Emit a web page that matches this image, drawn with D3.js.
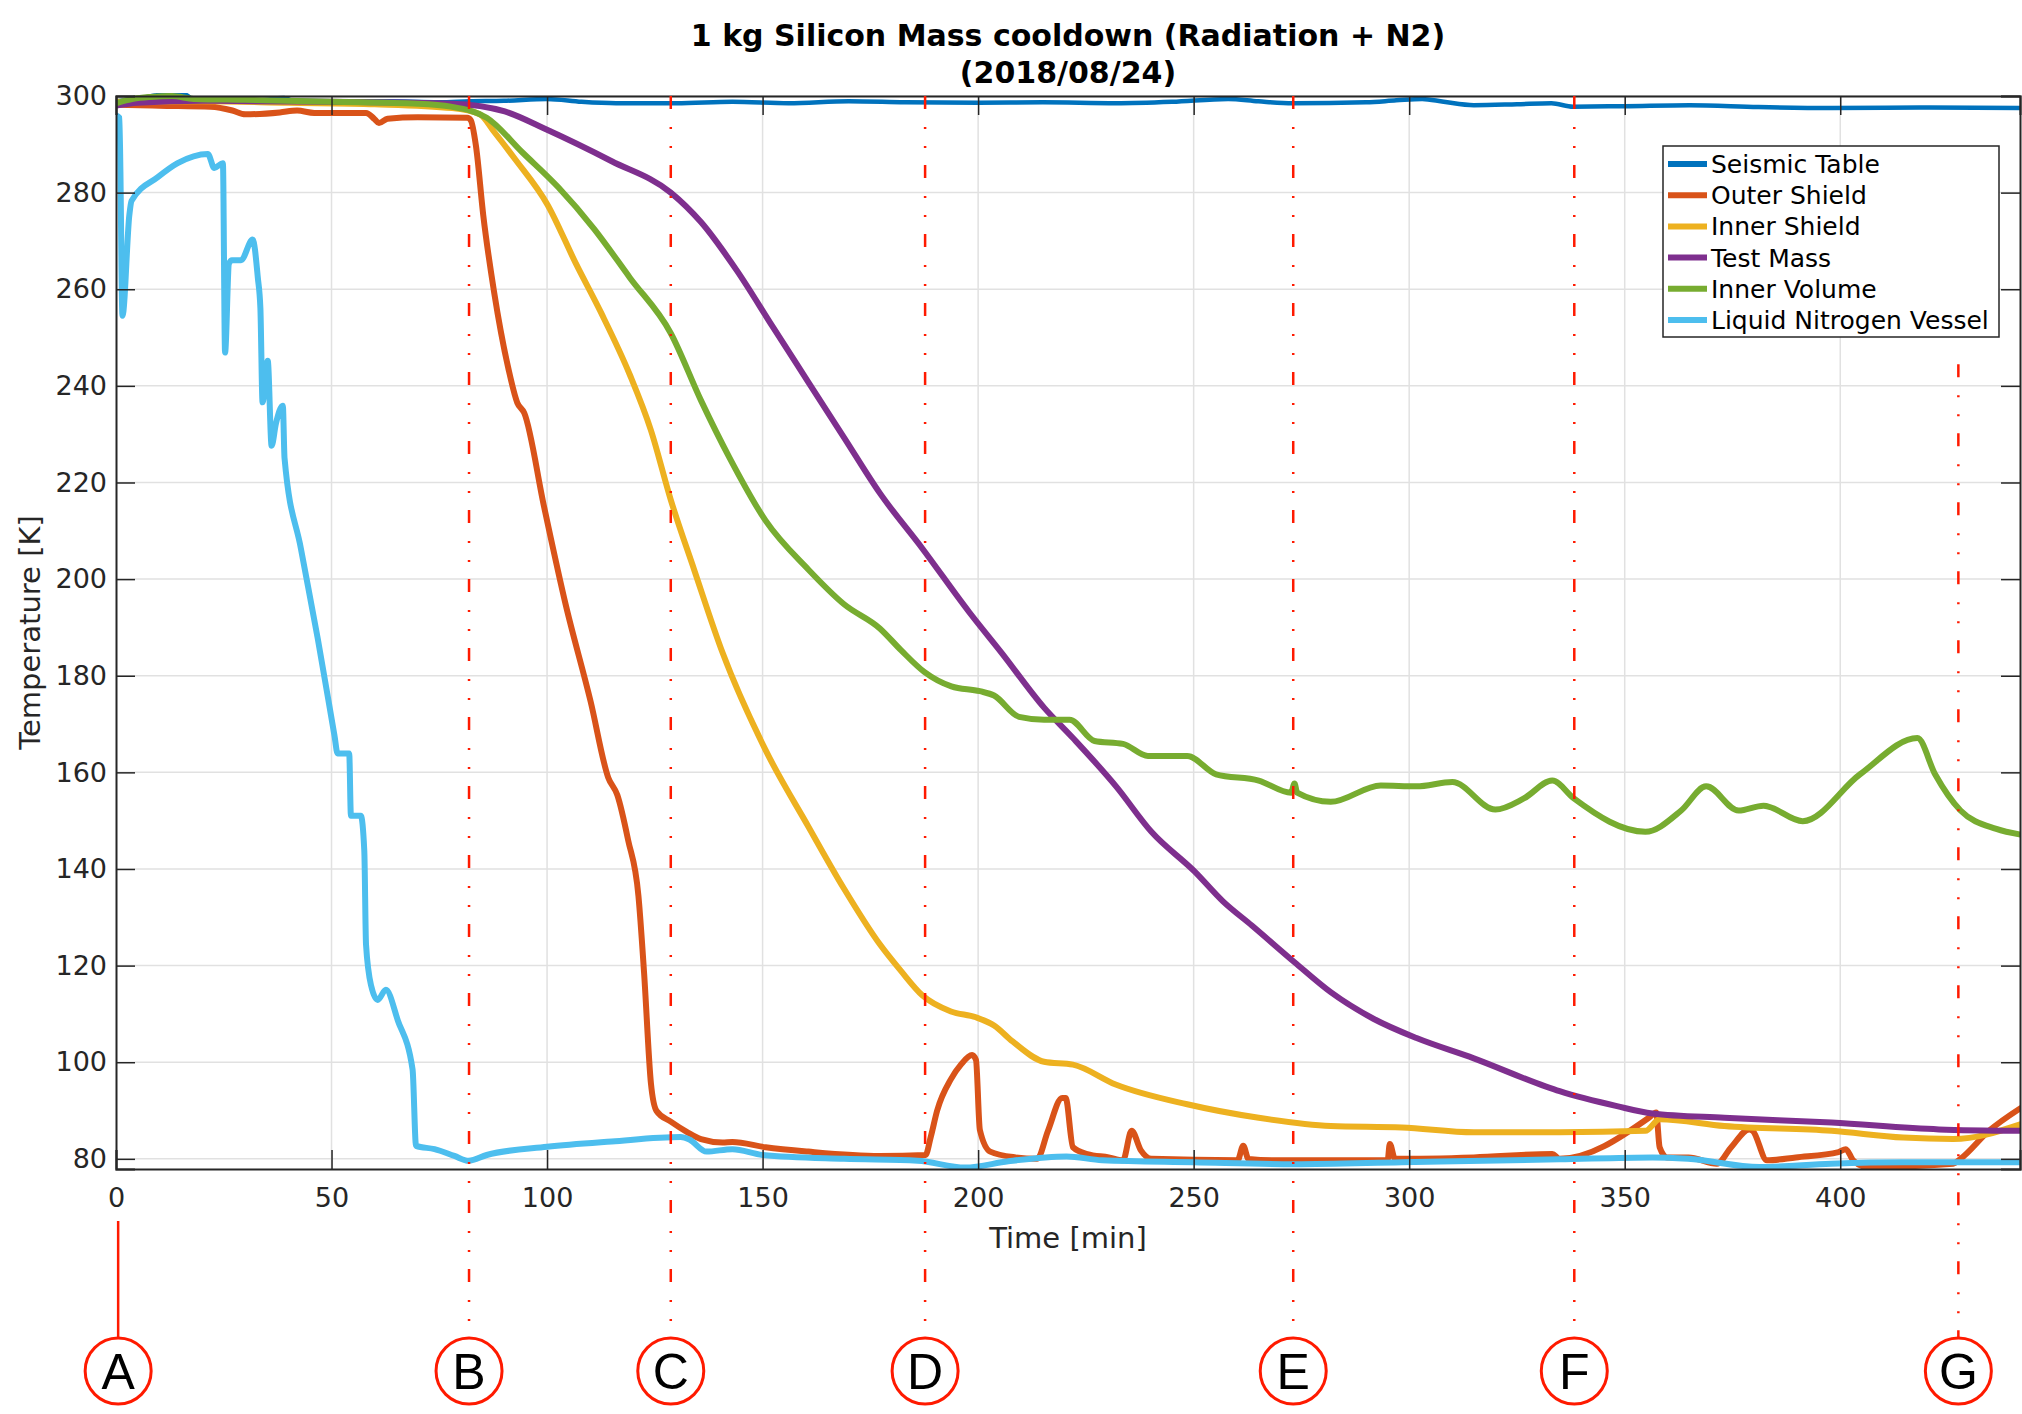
<!DOCTYPE html>
<html>
<head>
<meta charset="utf-8">
<script src="https://cdn.jsdelivr.net/npm/d3@7"></script>
<style>
  body { margin: 0; background: #fff; }
  text { font-family: "DejaVu Sans", sans-serif; fill: #262626; }
</style>
</head>
<body>
<svg id="chart" width="2022" height="1414"></svg>
<script>
// readings taken off the plot, [minutes, kelvin]
var seismicTable = [[0,298.9],[3,299.3],[6,299.6],[9,300.1],[11,300.3],[16,300.3],[18,299.2],[25,299.1],[32,299.0],[39,299.6],[41,299.0],[50,298.9],[63,298.9],[75,298.7],[82,298.9],[90,299.0],[100,299.4],[108,298.8],[116,298.5],[130,298.5],[143,298.8],[156,298.5],[170,298.9],[183,298.7],[200,298.6],[215,298.7],[232,298.5],[245,298.8],[258,299.4],[265,298.9],[273,298.5],[290,298.7],[297,299.1],[303,299.4],[308,298.8],[315,298.1],[325,298.3],[333,298.5],[338,297.8],[350,297.9],[365,298.1],[381,297.7],[398,297.5],[420,297.6],[442,297.5]];

var outerShield = [[0,298.2],[10,298.0],[22,297.8],[27,297.0],[30,296.2],[38,296.6],[42,297.0],[46,296.5],[58,296.5],[60,295.2],[61,294.4],[63,295.3],[70,295.6],[81.5,295.5],[82.3,295.0],[83.5,289.7],[85.2,275.3],[87.7,259.5],[91,243.7],[93.1,236.5],[94.7,234.4],[99.3,215],[104.3,194.8],[110.1,174.7],[114.2,158.9],[116.3,155.3],[118.8,146],[121.2,134.4],[122.5,118.6],[124.1,95.6],[125.4,89.9],[128.7,87.7],[132.4,85.6],[135.7,84.1],[140.7,83.4],[143,83.5],[150.7,82.4],[160.6,81.5],[177.2,80.6],[187.8,80.8],[189,84.5],[190.5,90],[193.7,96.5],[196,99.5],[198.6,101.5],[199.5,100.5],[200.4,86],[202.8,81.5],[208.7,80.3],[213.7,80],[216.2,85.8],[219.5,92.6],[220.3,92.6],[222,82.4],[225.3,81],[230.3,80.3],[233.6,79.7],[235.6,85.8],[237.8,81.7],[240.2,80],[260.2,79.7],[261.5,82.7],[262.7,80],[268.5,79.7],[295,79.7],[295.5,83.1],[296.7,80],[315,80.3],[333.2,81],[334.9,80],[355.6,88.5],[357.3,89.6],[358.1,82.4],[359.8,80.3],[364.8,80.3],[371.4,79],[374.7,82.4],[378.9,86.1],[379.7,85.8],[383,79.7],[389.7,80.3],[399.6,81.4],[401.3,82],[403,79.7],[406.3,78.3],[426.2,79],[427.9,80],[434.5,85.8],[442,90.6]];

var innerShield = [[0,298.8],[20,298.9],[40,298.6],[60,298.3],[78,297.5],[84.4,296.2],[87.7,292.6],[92.6,286.9],[100.1,277.5],[106.7,265.3],[112.5,255.2],[119.2,242.3],[124.1,230.8],[128.7,216.4],[134.1,202],[140.7,184.8],[150.7,164.6],[160.6,148.8],[168.9,135.9],[177.2,124.4],[182,119],[187.1,113.8],[193.7,110.5],[199.5,109.3],[203.7,107.6],[208,104.3],[215.3,100.1],[222,99.5],[231.9,95.4],[248.5,91.3],[265.1,88.5],[281.8,86.8],[298.3,86.5],[315,85.5],[334.9,85.5],[354.8,85.8],[358.1,88.2],[373.1,86.8],[398,85.8],[414.6,84.4],[426.2,84.1],[442,87.2]];

var testMass = [[0,298],[5,298.6],[20,299],[50,298.8],[78,298.4],[90.2,296.8],[100,293],[115,286.5],[128.7,280],[135.7,273.9],[144,263.9],[152.3,252.3],[160.6,240.8],[168.9,229.3],[177.2,217.8],[187.1,206.3],[197.9,193.2],[205.4,184.8],[215.3,173.4],[222,167.1],[232,157.1],[240.2,147.7],[250.2,139.5],[256.8,133.3],[263.5,128.3],[273.4,120.7],[281.8,114.5],[291.7,109],[301.7,105],[315,100.8],[331.6,95],[334.9,94],[348.2,90.9],[356.4,89.4],[373.1,88.5],[398,87.5],[422.9,86.1],[442,85.8]];

var innerVolume = [[0,298.5],[4,299.4],[8,299.8],[13,300],[18,299.4],[30,299.2],[50,298.8],[70,298.4],[77.7,297.8],[86,295.5],[94.3,288.3],[102.6,281.1],[110.9,272.5],[119.2,262.4],[128.7,250.9],[135.7,237],[142.4,225],[150.7,212.1],[160.6,202],[168.9,194.8],[177.2,189.8],[182.1,185.3],[187.5,180.8],[193.8,177.8],[200.4,176.8],[203.7,175.9],[209.5,171.5],[215.3,170.9],[221.2,170.9],[227,166.5],[233.6,165.9],[239.4,163.4],[248.5,163.4],[255.2,159.6],[265.1,158.3],[272.6,155.8],[273.4,157.7],[274,155.8],[281.8,153.9],[293.4,157.3],[301.7,157.1],[310,158],[320,152.3],[326.6,154.6],[333.2,158.3],[338.2,154.6],[354.8,147.7],[363.1,152.1],[368.9,157.1],[376.4,152.1],[382.2,153.1],[391.3,149.9],[404.6,159.6],[417.9,167.1],[422,159.6],[427.9,152.1],[436.2,148.3],[442,147.1]];

var nitrogenVessel = [[0,296],[0.8,295.5],[1.5,254.5],[3.1,275.4],[3.6,278.3],[9.7,283.2],[14.3,286.1],[21.3,288],[22.8,285.1],[24.8,286.1],[25.3,246.9],[26.2,265.3],[26.9,266],[29,266],[31.7,270.3],[32.9,262.4],[33.5,256],[34,236.6],[35.2,245.2],[36.1,227.6],[37.1,232.2],[38.7,235.9],[39.1,225],[42.9,206.3],[46.8,187.7],[50.7,167.5],[51.4,163.9],[54.1,163.9],[54.5,151],[56.8,151],[57.6,143.8],[58,124.4],[59.2,115.8],[60.7,112.9],[62.6,115],[65.4,108.6],[68.8,98.5],[69.6,82.7],[73.9,82],[78.5,80.6],[81.8,79.6],[86,80.8],[100,82.5],[115,83.6],[131,84.5],[133,84],[137,81.5],[143,82],[150,80.8],[168.9,80],[186,79.6],[197,78.2],[207,79.5],[220.5,80.5],[228.8,79.7],[250,79.3],[273.4,78.9],[298.3,79.3],[334.8,79.9],[356.4,80.3],[364.7,80],[381.3,78.3],[397.9,79],[414.5,79.3],[442,79.3]];

var seriesNames = ["Seismic Table", "Outer Shield", "Inner Shield", "Test Mass", "Inner Volume", "Liquid Nitrogen Vessel"];
var seriesColors = ["#0072BD", "#D95319", "#EDB120", "#7E2F8E", "#77AC30", "#4DBEEE"];
var seriesData = [seismicTable, outerShield, innerShield, testMass, innerVolume, nitrogenVessel];

var xTicks = [0, 50, 100, 150, 200, 250, 300, 350, 400];
var yTicks = [80, 100, 120, 140, 160, 180, 200, 220, 240, 260, 280, 300];

// event markers
var markerLabels = ["A", "B", "C", "D", "E", "F", "G"];
var markerTimes = [0.5, 81.9, 128.7, 187.7, 273.1, 338.3, 427.4];
var markerTopK = [null, 300, 300, 300, 300, 300, 244.5];

function drawChart() {
    var W = 2022, H = 1414;
    var pLeft = 116, pRight = 2020, pTop = 96, pBottom = 1169;

    var svg = d3.select("#chart");
    svg.append("rect").attr("width", W).attr("height", H).attr("fill", "#fff");

    var x = d3.scaleLinear().domain([0, 441.7]).range([pLeft, pRight]);
    var y = d3.scaleLinear().domain([77.9, 300]).range([pBottom, pTop]);

    // grid
    svg.append("g").selectAll("line").data(xTicks.slice(1)).enter().append("line")
        .attr("x1", function(d) { return x(d); }).attr("x2", function(d) { return x(d); })
        .attr("y1", pTop).attr("y2", pBottom)
        .attr("stroke", "#e1e1e1").attr("stroke-width", 1.5);
    svg.append("g").selectAll("line").data(yTicks).enter().append("line")
        .attr("x1", pLeft).attr("x2", pRight)
        .attr("y1", function(d) { return y(d); }).attr("y2", function(d) { return y(d); })
        .attr("stroke", "#e1e1e1").attr("stroke-width", 1.5);

    svg.append("clipPath").attr("id", "plotclip").append("rect")
        .attr("x", pLeft).attr("y", pTop - 3).attr("width", pRight - pLeft).attr("height", pBottom - pTop + 3);

    var line = d3.line()
        .curve(d3.curveMonotoneX)
        .x(function(d) { return x(d[0]); })
        .y(function(d) { return y(d[1]); });

    svg.append("g").attr("clip-path", "url(#plotclip)")
        .selectAll("path").data(seriesData).enter().append("path")
        .attr("d", line)
        .attr("fill", "none")
        .attr("stroke", function(d, i) { return seriesColors[i]; })
        .attr("stroke-width", function(d, i) { return i == 0 ? 4.5 : 6; })
        .attr("stroke-linejoin", "round");

    // axes, ticks pointing inward
    var axisColor = "#262626";
    var gx = svg.append("g").attr("transform", "translate(0," + pBottom + ")")
        .call(d3.axisBottom(x).tickValues(xTicks).tickSize(-19).tickPadding(19));
    var gy = svg.append("g").attr("transform", "translate(" + pLeft + ",0)")
        .call(d3.axisLeft(y).tickValues(yTicks).tickSize(-19).tickPadding(9));
    var gt = svg.append("g").attr("transform", "translate(0," + pTop + ")")
        .call(d3.axisTop(x).tickValues(xTicks).tickSize(-19).tickFormat(""));
    var gr = svg.append("g").attr("transform", "translate(" + pRight + ",0)")
        .call(d3.axisRight(y).tickValues(yTicks).tickSize(-19).tickFormat(""));

    [gx, gy, gt, gr].forEach(function(g) {
        g.selectAll("path").attr("stroke", axisColor).attr("stroke-width", 2);
        g.selectAll("line").attr("stroke", axisColor).attr("stroke-width", 1.5);
        g.selectAll("text").attr("font-family", "DejaVu Sans").attr("font-size", 27).attr("fill", axisColor);
    });

    // event lines and circles
    var red = "#ff1a00";
    var circleY = pBottom + 202, circleR = 33;
    var mk = svg.append("g");
    for (var i = 0; i < markerLabels.length; ++i) {
        var mx = x(markerTimes[i]);
        if (markerTopK[i] == null) {
            mk.append("line").attr("x1", mx).attr("x2", mx)
                .attr("y1", pBottom + 52).attr("y2", circleY - circleR)
                .attr("stroke", red).attr("stroke-width", 2.5);
        } else {
            mk.append("line").attr("x1", mx).attr("x2", mx)
                .attr("y1", y(markerTopK[i])).attr("y2", circleY - circleR)
                .attr("stroke", red).attr("stroke-width", 2.5)
                .attr("stroke-dasharray", "13 18 2 17 2 17");
        }
        mk.append("circle").attr("cx", mx).attr("cy", circleY).attr("r", circleR)
            .attr("fill", "#fff").attr("stroke", red).attr("stroke-width", 3);
        mk.append("text").attr("x", mx).attr("y", circleY + 18)
            .attr("text-anchor", "middle")
            .style("font-family", "'Liberation Sans', Arial, sans-serif")
            .style("font-size", "50px").style("fill", "#000")
            .text(markerLabels[i]);
    }

    // legend
    var lg = svg.append("g");
    lg.append("rect").attr("x", 1663).attr("y", 146).attr("width", 336).attr("height", 191)
        .attr("fill", "#fff").attr("stroke", "#262626").attr("stroke-width", 1.5);
    lg.selectAll("line").data(seriesNames).enter().append("line")
        .attr("x1", 1668).attr("x2", 1707)
        .attr("y1", function(d, i) { return 164 + i * 31.2; })
        .attr("y2", function(d, i) { return 164 + i * 31.2; })
        .attr("stroke", function(d, i) { return seriesColors[i]; })
        .attr("stroke-width", 6);
    lg.selectAll("text").data(seriesNames).enter().append("text")
        .attr("x", 1711)
        .attr("y", function(d, i) { return 164 + i * 31.2 + 9; })
        .style("font-size", "25px").style("fill", "#000")
        .text(function(d) { return d; });

    // titles
    var cx = (pLeft + pRight) / 2;
    svg.append("text").attr("x", cx).attr("y", 46).attr("text-anchor", "middle")
        .style("font-size", "30px").style("font-weight", "bold").style("fill", "#000")
        .text("1 kg Silicon Mass cooldown (Radiation + N2)");
    svg.append("text").attr("x", cx).attr("y", 83).attr("text-anchor", "middle")
        .style("font-size", "30px").style("font-weight", "bold").style("fill", "#000")
        .text("(2018/08/24)");
    svg.append("text").attr("x", cx).attr("y", 1248).attr("text-anchor", "middle")
        .style("font-size", "29px")
        .text("Time [min]");
    svg.append("text").attr("transform", "translate(40," + (pTop + pBottom) / 2 + ") rotate(-90)")
        .attr("text-anchor", "middle")
        .style("font-size", "29px")
        .text("Temperature [K]");
}

drawChart();
</script>
</body>
</html>
